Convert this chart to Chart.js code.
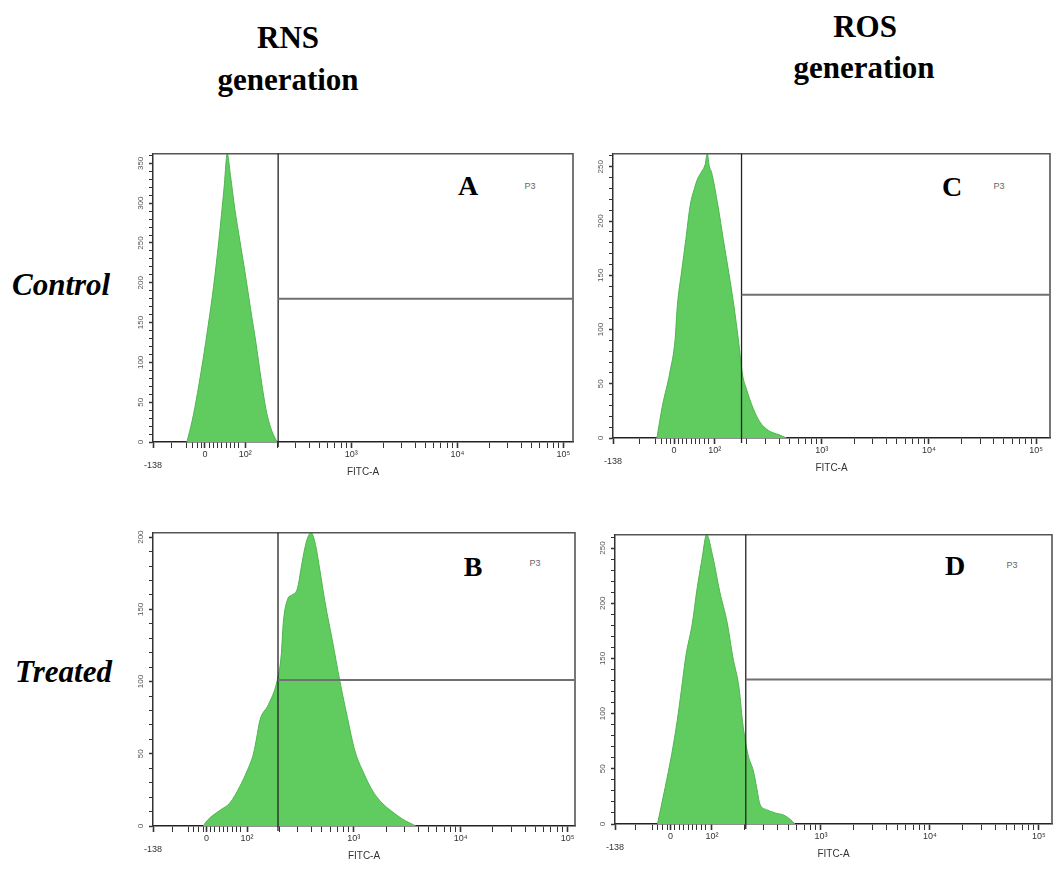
<!DOCTYPE html>
<html>
<head>
<meta charset="utf-8">
<script src="https://cdn.jsdelivr.net/npm/chart.js@4.4.1/dist/chart.umd.min.js"></script>
<style>
  body { margin: 0; background: #fff; width: 1059px; height: 870px; position: relative; overflow: hidden; font-family: "Liberation Serif", "Times New Roman", serif; }
  .txt { position: absolute; white-space: nowrap; color: #000; line-height: 1; }
  .head { font-weight: bold; font-size: 31px; transform: translateX(-50%); }
  .row { font-weight: bold; font-style: italic; font-size: 31px; }
  .letter { font-weight: bold; font-size: 28px; transform: translate(-50%, -50%); }
  .gate { font-family: "Liberation Sans", Arial, sans-serif; font-size: 9px; color: #666; transform: translate(-50%, -50%); }
  canvas { position: absolute; }
</style>
</head>
<body>
<div class="txt head" style="left:288px;top:22px">RNS</div>
<div class="txt head" style="left:288px;top:64px">generation</div>
<div class="txt head" style="left:865px;top:11px">ROS</div>
<div class="txt head" style="left:864px;top:52px">generation</div>
<div class="txt row" style="left:12px;top:269px">Control</div>
<div class="txt row" style="left:15px;top:656px">Treated</div>

<div class="txt letter" style="left:468px;top:186px">A</div>
<div class="txt gate" style="left:530px;top:186px">P3</div>
<div class="txt letter" style="left:473px;top:567px">B</div>
<div class="txt gate" style="left:535px;top:563px">P3</div>
<div class="txt letter" style="left:952px;top:187px">C</div>
<div class="txt letter" style="left:955px;top:566px">D</div>
<div class="txt gate" style="left:999px;top:186px">P3</div>
<div class="txt gate" style="left:1012px;top:565px">P3</div>

<canvas id="rnsControl"></canvas>
<canvas id="rnsTreated"></canvas>
<canvas id="rosControl"></canvas>
<canvas id="rosTreated"></canvas>

<script>
// FITC-A channel is in display units: 2 = 10^2, 3 = 10^3 ... (biexponential axis)
const xTickValues = [null, 1.62, 2, 3, 4, 5];          // null = axis minimum (-138)
const xTickLabels = ['-138', '0', '10²', '10³', '10⁴', '10⁵'];
const linearMinorTicks = [1.30, 1.45, 1.50, 1.55, 1.59, 1.66, 1.70, 1.74, 1.78, 1.82, 1.86, 1.90, 1.94];

// A - RNS, control
const rnsControlChannel = [1.45, 1.50, 1.55, 1.60, 1.65, 1.70, 1.75, 1.80, 1.83, 1.86, 1.90, 1.95, 2.00, 2.05, 2.10, 2.15, 2.20, 2.25, 2.30];
const rnsControlCount   = [0, 27, 62, 102, 146, 194, 252, 319, 362, 335, 294, 252, 211, 167, 125, 78, 38, 14, 0];

// B - RNS, treated
const rnsTreatedChannel = [1.59, 1.63, 1.75, 1.84, 1.93, 2.00, 2.06, 2.09, 2.12, 2.20, 2.28, 2.32, 2.34, 2.38, 2.42, 2.47, 2.51, 2.54, 2.57, 2.60, 2.64, 2.68, 2.73, 2.80, 2.87, 2.94, 3.01, 3.09, 3.17, 3.25, 3.34, 3.45, 3.58];
const rnsTreatedCount   = [0, 4, 11, 16, 27, 38, 50, 61, 73, 84, 100, 118, 141, 157, 160, 164, 180, 192, 200, 203, 195, 178, 155, 128, 100, 75, 52, 37, 25, 17, 11, 5, 0];

// C - ROS, control
const rosControlChannel = [1.46, 1.51, 1.58, 1.63, 1.65, 1.69, 1.73, 1.77, 1.81, 1.84, 1.88, 1.91, 1.93, 1.95, 1.97, 2.03, 2.08, 2.13, 2.18, 2.22, 2.26, 2.29, 2.36, 2.42, 2.50, 2.60, 2.67];
const rosControlCount   = [0, 29, 60, 91, 121, 153, 183, 214, 230, 239, 246, 252, 262, 250, 245, 214, 183, 153, 121, 91, 58, 47, 27, 15, 7, 3, 0];

// D - ROS, treated
const rosTreatedChannel = [1.50, 1.57, 1.63, 1.68, 1.72, 1.76, 1.82, 1.86, 1.91, 1.95, 2.01, 2.07, 2.14, 2.19, 2.25, 2.28, 2.33, 2.38, 2.41, 2.44, 2.50, 2.58, 2.66, 2.72, 2.76];
const rosTreatedCount   = [0, 33, 63, 93, 122, 152, 182, 211, 241, 262, 241, 211, 182, 152, 122, 93, 63, 48, 33, 18, 13, 10, 8, 4, 0];

// P3 marker: vertical gate channel and horizontal gate level, per panel (A, B, C, D)
const gateChannel = [2.31, 2.29, 2.25, 2.31];
const gateLevel   = [180, 101, 132, 131];
const countMax    = [362, 203, 262, 262];
const channelMin  = [1.13, 1.12, 1.05, 1.11];
const channelMax  = [5.09, 5.07, 5.13, 5.12];

// plot-area boxes on the page
const layoutBoxes = {
    rnsControl: { left: 153, top: 151, right: 573, bottom: 442 },
    rnsTreated: { left: 153, top: 530, right: 575, bottom: 826 },
    rosControl: { left: 613, top: 151, right: 1050, bottom: 438 },
    rosTreated: { left: 615, top: 532, right: 1052, bottom: 824 }
};

const Y_AXIS_W = 26, X_AXIS_H = 36, PAD_TOP = 4, PAD_RIGHT = 6;

const gatePlugin = {
    id: 'gates',
    afterDatasetsDraw(chart, args, opts) {
        const { ctx, chartArea: a, scales: { x, y } } = chart;
        const gx = x.getPixelForValue(opts.channel);
        const gy = y.getPixelForValue(opts.level);
        ctx.save();
        // plot frame (top + right)
        ctx.strokeStyle = '#555';
        ctx.lineWidth = 1.6;
        ctx.beginPath();
        ctx.moveTo(a.left, a.top);
        ctx.lineTo(a.right, a.top);
        ctx.lineTo(a.right, a.bottom);
        ctx.stroke();
        // gate lines
        ctx.strokeStyle = '#222';
        ctx.lineWidth = 1.3;
        ctx.beginPath();
        ctx.moveTo(gx, a.top);
        ctx.lineTo(gx, a.bottom + 5);
        ctx.stroke();
        ctx.strokeStyle = '#707070';
        ctx.lineWidth = 2;
        ctx.beginPath();
        ctx.moveTo(gx, gy);
        ctx.lineTo(a.right, gy);
        ctx.stroke();
        ctx.restore();
    }
};

function buildXTicks(scale) {
    const ticks = [];
    xTickValues.forEach(v => ticks.push({ value: v === null ? scale.min : v, big: true }));
    linearMinorTicks.forEach(v => ticks.push({ value: v }));
    for (let d = 2; d < 5; d++) {
        for (let k = 2; k <= 9; k++) ticks.push({ value: d + Math.log10(k) });
    }
    ticks.sort((a, b) => a.value - b.value);
    scale.ticks = ticks;
}

function xLabel(value) {
    if (Math.abs(value - this.min) < 1e-6) return ['', xTickLabels[0]];
    for (let i = 1; i < xTickValues.length; i++) {
        if (Math.abs(value - xTickValues[i]) < 1e-6) return xTickLabels[i];
    }
    return '';
}

function buildYTicks(scale) {
    const ticks = [];
    for (let v = 0; v <= scale.max; v += 10) ticks.push({ value: v, big: v % 50 === 0 });
    scale.ticks = ticks;
}

const panelIds = ['rnsControl', 'rnsTreated', 'rosControl', 'rosTreated'];
const panelChannels = [rnsControlChannel, rnsTreatedChannel, rosControlChannel, rosTreatedChannel];
const panelCounts = [rnsControlCount, rnsTreatedCount, rosControlCount, rosTreatedCount];

const tickFont = { family: 'Liberation Sans', size: 9 };

panelIds.forEach((id, i) => {
    const box = layoutBoxes[id];
    const canvas = document.getElementById(id);
    canvas.width = box.right - box.left + Y_AXIS_W + PAD_RIGHT;
    canvas.height = box.bottom - box.top + PAD_TOP + X_AXIS_H;
    canvas.style.left = (box.left - Y_AXIS_W) + 'px';
    canvas.style.top = (box.top - PAD_TOP) + 'px';

    const points = panelChannels[i].map((c, j) => ({ x: c, y: panelCounts[i][j] }));

    new Chart(canvas.getContext('2d'), {
        type: 'line',
        data: {
            datasets: [{
                data: points,
                fill: 'origin',
                backgroundColor: '#60cc60',
                borderColor: '#4fb54f',
                borderWidth: 1,
                pointRadius: 0,
                cubicInterpolationMode: 'monotone'
            }]
        },
        plugins: [gatePlugin],
        options: {
            responsive: false,
            animation: false,
            devicePixelRatio: 1,
            layout: { padding: { top: PAD_TOP, right: PAD_RIGHT, left: 0, bottom: 0 } },
            plugins: {
                legend: { display: false },
                tooltip: { enabled: false },
                gates: { channel: gateChannel[i], level: gateLevel[i] }
            },
            scales: {
                x: {
                    type: 'linear',
                    min: channelMin[i],
                    max: channelMax[i],
                    afterBuildTicks: buildXTicks,
                    afterFit: s => { s.height = X_AXIS_H; },
                    ticks: { autoSkip: false, maxRotation: 0, minRotation: 0, padding: 1, color: '#333', font: tickFont, callback: xLabel },
                    grid: {
                        drawOnChartArea: false,
                        tickLength: 6,
                        tickColor: '#333',
                        tickWidth: c => (c.tick && c.tick.big ? 1.6 : 1)
                    },
                    border: { color: '#222', width: 1.6 },
                    title: { display: true, text: 'FITC-A', color: '#333', font: { family: 'Liberation Sans', size: 10 }, padding: 0 }
                },
                y: {
                    type: 'linear',
                    min: 0,
                    max: countMax[i],
                    afterBuildTicks: buildYTicks,
                    afterFit: s => { s.width = Y_AXIS_W; },
                    ticks: {
                        autoSkip: false, minRotation: 90, maxRotation: 90, crossAlign: 'center', padding: 2,
                        color: '#555', font: { family: 'Liberation Sans', size: 8 },
                        callback: v => (v % 50 === 0 ? String(v) : '')
                    },
                    grid: {
                        drawOnChartArea: false,
                        tickLength: 4,
                        tickColor: '#333',
                        tickWidth: c => (c.tick && c.tick.big ? 1.5 : 1)
                    },
                    border: { color: '#333', width: 1.5 }
                }
            }
        }
    });
});
</script>
</body>
</html>
